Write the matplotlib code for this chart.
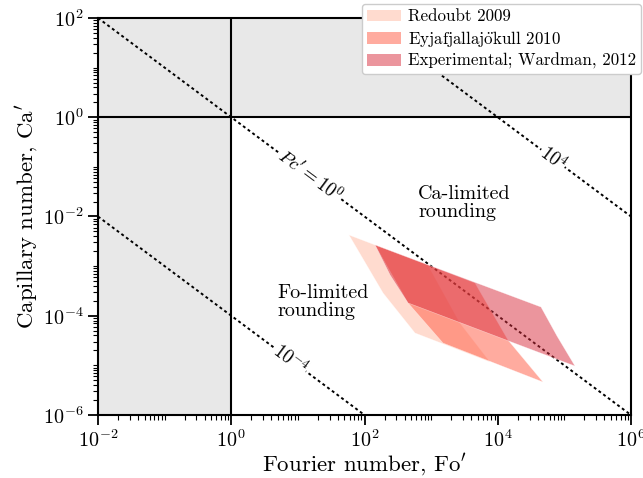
import numpy as np
import matplotlib
matplotlib.use("Agg")
from matplotlib import pyplot as plt
from matplotlib.patches import Polygon, Patch
from matplotlib.ticker import LogLocator, NullFormatter

plt.rcParams['font.family'] = ['cmr10', 'DejaVu Serif']
plt.rcParams['mathtext.fontset'] = 'cm'
plt.rcParams['axes.formatter.use_mathtext'] = True

# polygon outlines (Fo', Ca')
redoubt_fo = [58.5, 897, 2710, 7660, 573, 190]
redoubt_ca = [4.24e-3, 1.05e-3, 7.14e-5, 1.17e-5, 4.49e-5, 2.87e-4]
eyja_fo = [144, 4560, 14260, 47750, 1507, 450]
eyja_ca = [2.67e-3, 4.57e-4, 3.24e-5, 4.62e-6, 2.82e-5, 1.81e-4]
exp_fo = [144, 44570, 77450, 144200, 450, 242]
exp_ca = [2.67e-3, 1.50e-4, 3.91e-5, 9.7e-6, 1.81e-4, 6.62e-4]

labels = ["Redoubt 2009", r"Eyjafjallaj$\ddot{\rm o}$kull 2010", "Experimental; Wardman, 2012"]
colors = ["#ffb9a1", "#ff5941", "#d92d3d"]

pc_levels = [1e-4, 1e0, 1e4]
pc_labels = [r"$10^{-4}$", r"$Pc' = 10^{0}$", r"$10^{4}$"]
pc_label_fo = [7.62, 15.2, 6.74e4]

W, H = 643, 478
fig = plt.figure(figsize=(W / 100, H / 100), dpi=100)
ax = fig.add_axes([98 / W, 1 - 415 / H, (631 - 98) / W, (415 - 18) / H])
ax.set_xscale('log')
ax.set_yscale('log')
ax.set_xlim(1e-2, 1e6)
ax.set_ylim(1e-6, 1e2)

ax.axvspan(1e-2, 1, color='#e8e8e8', lw=0, zorder=0)
ax.axhspan(1, 1e2, color='#e8e8e8', lw=0, zorder=0)
ax.axvline(1, color='k', lw=1.5, zorder=1)
ax.axhline(1, color='k', lw=1.5, zorder=1)

# contour lines of Pc' = Fo' Ca'
fo = np.geomspace(1e-2, 1e6, 200)
ang = -np.degrees(np.arctan((397 / 8) / (533 / 8)))
for pc, lab, xf in zip(pc_levels, pc_labels, pc_label_fo):
    ax.plot(fo, pc / fo, ls=(0, (1.5, 1.5)), color='k', lw=1.4, zorder=2)
    ax.text(xf, pc / xf, lab, rotation=ang, ha='center', va='center', fontsize=13.5,
            rotation_mode='anchor', zorder=3,
            bbox=dict(facecolor='white', edgecolor='none', pad=0.5))

for xs, ys, c in zip([redoubt_fo, eyja_fo, exp_fo], [redoubt_ca, eyja_ca, exp_ca], colors):
    ax.add_patch(Polygon(np.column_stack([xs, ys]), closed=True, facecolor=c,
                         edgecolor='white', lw=0.4, alpha=0.5, zorder=4))

ax.text(635, 0.042, "Ca-limited\nrounding", fontsize=14.5, va='top', ha='left', linespacing=1.0)
ax.text(4.87, 4.4e-4, "Fo-limited\nrounding", fontsize=14.5, va='top', ha='left', linespacing=1.0)

ax.set_xticks([1e-2, 1e0, 1e2, 1e4, 1e6])
ax.set_yticks([1e-6, 1e-4, 1e-2, 1e0, 1e2])
ax.xaxis.set_minor_locator(LogLocator(base=10, subs=np.arange(1, 10), numticks=100))
ax.yaxis.set_minor_locator(LogLocator(base=10, subs=np.arange(1, 10), numticks=100))
ax.xaxis.set_minor_formatter(NullFormatter())
ax.yaxis.set_minor_formatter(NullFormatter())
ax.tick_params(which='major', length=7, width=1.3, labelsize=14.5)
ax.tick_params(which='minor', length=3.5, width=0.8)
for s in ax.spines.values():
    s.set_linewidth(1.5)

ax.set_xlabel(r"Fourier number, Fo$'$", fontsize=16.5, labelpad=0)
ax.set_ylabel(r"Capillary number, Ca$'$", fontsize=16.5, labelpad=2)

handles = [Patch(facecolor=c, alpha=0.5, edgecolor='none') for c in colors]
leg = fig.legend(handles, labels, loc='upper left', bbox_to_anchor=(362 / W, 1 - 4 / H),
                 fontsize=12.2, labelspacing=0.25, handlelength=2.0, handletextpad=0.4,
                 borderpad=0.3, borderaxespad=0, framealpha=1, edgecolor='#cccccc')

fig.savefig("out.png", dpi=100)
